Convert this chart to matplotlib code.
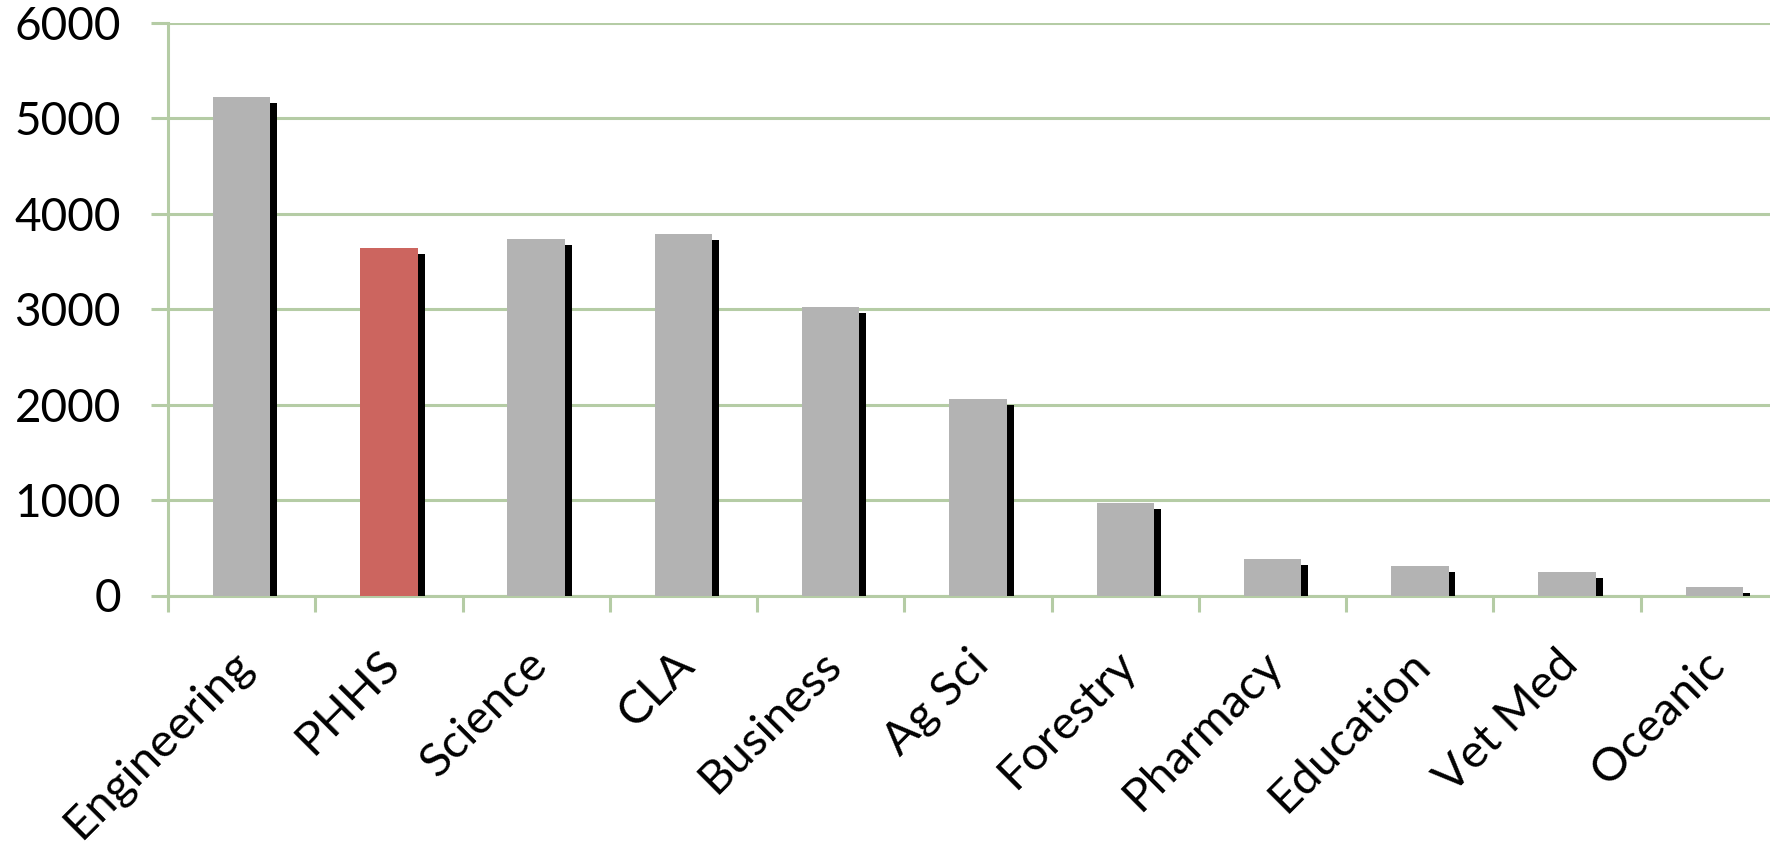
import matplotlib.pyplot as plt
import matplotlib.patheffects as pe
import matplotlib.transforms as mtransforms
import numpy as np

colleges = ['Engineering', 'PHHS', 'Science', 'CLA', 'Business', 'Ag Sci',
            'Forestry', 'Pharmacy', 'Education', 'Vet Med', 'Oceanic']
enrollment = [5225, 3643, 3737, 3790, 3028, 2061, 974, 384, 314, 251, 94]
highlight = 'PHHS'

grid_color = '#b5cca5'
bar_gray = '#b3b3b3'
bar_red = '#cc655f'

plt.rcParams['font.family'] = ['Lato', 'DejaVu Sans']

fig = plt.figure(figsize=(17.7, 8.44), dpi=100)
# axes runs a little past the right edge, so the last column gets cut off
ax = fig.add_axes([168 / 1770, 248.5 / 844, 1620 / 1770, 572.5 / 844])

x = np.arange(len(colleges))
colors = [bar_red if c == highlight else bar_gray for c in colleges]
bars = ax.bar(x, enrollment, width=0.39, color=colors, zorder=3)
for b in bars:
    b.set_path_effects([pe.SimplePatchShadow(offset=(5, -4.5), shadow_rgbFace='black',
                                             alpha=1.0),
                        pe.Normal()])

ax.set_xlim(-0.5, len(colleges) - 0.5)
ax.set_ylim(0, 6000)
ax.set_yticks(np.arange(0, 6001, 1000))
ax.yaxis.grid(True, color=grid_color, linewidth=2.2, zorder=0)
ax.set_axisbelow(True)

for side in ['top', 'right']:
    ax.spines[side].set_visible(False)
for side in ['left', 'bottom']:
    ax.spines[side].set_color(grid_color)
    ax.spines[side].set_linewidth(2.2)

ax.tick_params(axis='y', length=12, width=2.2, color=grid_color, pad=22,
               labelsize=33)
ax.set_xticks(x)
ax.set_xticks(np.arange(-0.5, len(colleges), 1), minor=True)
ax.tick_params(axis='x', which='major', length=0, pad=34)
ax.tick_params(axis='x', which='minor', length=11.5, width=2.2, color=grid_color)
ax.set_xticklabels(colleges, rotation=45, ha='right', rotation_mode='anchor',
                   fontsize=34)
shift = mtransforms.ScaledTranslation(-11 / 100, 0, fig.dpi_scale_trans)
for lbl in ax.get_xticklabels():
    lbl.set_transform(lbl.get_transform() + shift)

fig.savefig('out.png', dpi=100, facecolor='white')
